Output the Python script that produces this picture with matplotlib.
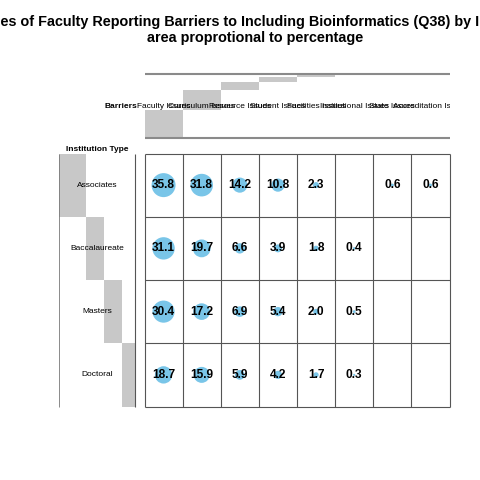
import numpy as np
import matplotlib.pyplot as plt

plt.rcParams['font.family'] = ['Liberation Sans', 'DejaVu Sans']

# Data (percent of faculty)
institutions = ['Associates', 'Baccalaureate', 'Masters', 'Doctoral']
barriers = ['Faculty Issues', 'Curriculum Issues', 'Resource Issues', 'Student Issues',
            'Facilities Issues', 'Institutional Issues', 'State Issues', 'Accreditation Issues']
associates = [35.8, 31.8, 14.2, 10.8, 2.3, np.nan, 0.6, 0.6]
baccalaureate = [31.1, 19.7, 6.6, 3.9, 1.8, 0.4, np.nan, np.nan]
masters = [30.4, 17.2, 6.9, 5.4, 2.0, 0.5, np.nan, np.nan]
doctoral = [18.7, 15.9, 5.9, 4.2, 1.7, 0.3, np.nan, np.nan]

vals = np.array([associates, baccalaureate, masters, doctoral])
nr, nc = vals.shape

# layout (pixel units, 480 x 480 canvas)
gx0, gx1 = 144.5, 449.5
gy0, gy1 = 153.5, 406.5
cw = (gx1 - gx0) / nc
rh = (gy1 - gy0) / nr
hy0, hy1 = 74.3, 137.7      # column-margin band
rx0, rx1 = 59.0, 135.0      # row-margin band
max_diam = 24.0             # px diameter of the largest balloon
title_x = 255.5

fig = plt.figure(figsize=(4.8, 4.8), dpi=100)
ax = fig.add_axes([0, 0, 1, 1])
ax.set_xlim(0, 480)
ax.set_ylim(480, 0)
ax.axis('off')

# marginal bars (cascaded)
col_tot = np.nansum(vals, axis=0)
row_tot = np.nansum(vals, axis=1)
cfrac = col_tot / col_tot.sum()
rfrac = row_tot / row_tot.sum()
H = hy1 - hy0
W = rx1 - rx0
ax.bar(gx0 + np.arange(nc) * cw, cfrac * H, bottom=hy1 - np.cumsum(cfrac) * H,
       width=cw, align='edge', color='#c8c8c8', lw=0)
ax.barh(gy0 + np.arange(nr) * rh, rfrac * W, left=rx0 + (np.cumsum(rfrac) - rfrac) * W,
        height=rh, align='edge', color='#c8c8c8', lw=0)

# header lines
ax.hlines([hy0, hy1], gx0, gx1, color='#8a8a8a', lw=1.5)
ax.vlines(rx0, gy0, gy1, color='#777777', lw=0.6)
ax.vlines(rx1, gy0, gy1, color='#555555', lw=0.8)

# grid
ax.vlines(gx0 + np.arange(nc + 1) * cw, gy0, gy1, color='#555555', lw=0.8)
ax.hlines(gy0 + np.arange(nr + 1) * rh, gx0, gx1, color='#555555', lw=0.8)

# balloons, area proportional to value
rr, cc = np.nonzero(~np.isnan(vals))
v = vals[rr, cc]
xs = gx0 + (cc + 0.5) * cw
ys = gy0 + (rr + 0.5) * rh
diam_pt = max_diam * np.sqrt(v / np.nanmax(vals)) * 0.72
ax.scatter(xs, ys, s=diam_pt ** 2, color='#79c5e8', lw=0, zorder=3)
for x, y, val in zip(xs, ys, v):
    ax.text(x, y, f'{val:.1f}', ha='center', va='center', fontsize=8.6,
            fontweight='bold', zorder=4)

# column labels, clipped at the right edge of the grid
lab_ax = fig.add_axes([0, 0, gx1 / 480, 1])
lab_ax.set_xlim(0, gx1)
lab_ax.set_ylim(480, 0)
lab_ax.axis('off')
for j, lab in enumerate(barriers):
    lab_ax.text(gx0 + (j + 0.5) * cw, (hy0 + hy1) / 2, lab, ha='center', va='center',
                fontsize=6, clip_on=True)
ax.text(gx0 - 6.8, (hy0 + hy1) / 2, 'Barriers', ha='right', va='center', fontsize=6,
        fontweight='bold')
for i, lab in enumerate(institutions):
    ax.text((rx0 + rx1) / 2, gy0 + (i + 0.5) * rh, lab, ha='center', va='center', fontsize=6)
ax.text((rx0 + rx1) / 2, gy0 - 0.5, 'Institution Type', ha='center', va='bottom',
        fontsize=6, fontweight='bold')

ax.text(title_x, 22, 'Percentages of Faculty Reporting Barriers to Including Bioinformatics (Q38) by Institution Type',
        ha='center', va='center', fontsize=10.4, fontweight='bold')
ax.text(title_x, 38, 'area proprotional to percentage', ha='center', va='center',
        fontsize=10.4, fontweight='bold')

fig.savefig('out.png', dpi=100)
